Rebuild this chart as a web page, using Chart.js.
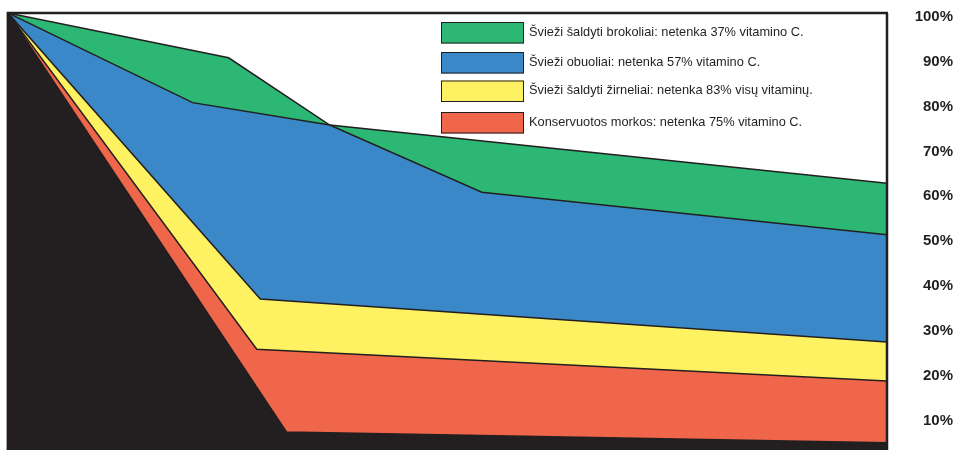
<!DOCTYPE html>
<html lang="lt">
<head>
<meta charset="utf-8">
<title>Vitaminų praradimas</title>
<script src="https://cdn.jsdelivr.net/npm/chart.js@4.4.1/dist/chart.umd.min.js"></script>
<style>
    html, body { margin: 0; padding: 0; background: #ffffff; }
    #wrap { position: relative; width: 953px; height: 450px; }
</style>
</head>
<body>
<div id="wrap"><canvas id="vitaminChart"></canvas></div>
<script>
// laiko ašis (0-100), kiekviena serija turi savo lūžio taškus
const broccoliX = [0, 25.1, 36.6, 100];
const broccoliY = [100, 90, 75, 62];

const applesX = [0, 21.0, 36.6, 53.9, 100];
const applesY = [100, 80, 75, 60, 50.5];

const peasX = [0, 28.7, 100];
const peasY = [100, 36.2, 26.6];

const carrotsX = [0, 28.3, 100];
const carrotsY = [100, 25, 17.9];

// tamsus pagrindas apačioje
const baseX = [0, 31.7, 100];
const baseY = [100, 6.5, 4.1];

const seriesLabels = [
    'Švieži šaldyti brokoliai: netenka 37% vitamino C.',
    'Švieži obuoliai: netenka 57% vitamino C.',
    'Švieži šaldyti žirneliai: netenka 83% visų vitaminų.',
    'Konservuotos morkos: netenka 75% vitamino C.'
];
const seriesColors = ['#2cb774', '#3a88c8', '#fff262', '#f0664a'];
const yTickValues = [10, 20, 30, 40, 50, 60, 70, 80, 90, 100];

const ink = '#231f20';

function toPoints(xs, ys) {
    return xs.map((x, i) => ({ x: x, y: ys[i] }));
}

function makeDataset(label, xs, ys, color, order) {
    return {
        label: label,
        data: toPoints(xs, ys),
        borderColor: ink,
        borderWidth: 1.5,
        backgroundColor: color,
        fill: 'start',
        tension: 0,
        pointRadius: 0,
        pointHoverRadius: 0,
        order: order
    };
}

// rėmelis aplink grafiką
const framePlugin = {
    id: 'frame',
    afterDatasetsDraw(chart) {
        const { ctx, chartArea: a } = chart;
        ctx.save();
        ctx.strokeStyle = ink;
        ctx.lineWidth = 2.5;
        ctx.beginPath();
        ctx.moveTo(a.left - 1, a.top);
        ctx.lineTo(a.right + 1, a.top);
        ctx.moveTo(a.right, a.top);
        ctx.lineTo(a.right, a.bottom);
        ctx.stroke();
        ctx.lineWidth = 1.8;
        ctx.beginPath();
        ctx.moveTo(a.left - 0.5, a.top - 1);
        ctx.lineTo(a.left - 0.5, a.bottom);
        ctx.stroke();
        ctx.restore();
    }
};

// legenda grafiko viduje
const legendPlugin = {
    id: 'innerLegend',
    afterDraw(chart) {
        const ctx = chart.ctx;
        const boxX = 441, boxW = 83, boxH = 21.5;
        const rowTops = [22, 52, 80.5, 112];
        ctx.save();
        ctx.font = '12.8px "Liberation Sans", Arial, sans-serif';
        ctx.textBaseline = 'middle';
        ctx.textAlign = 'left';
        seriesLabels.forEach((label, i) => {
            const y = rowTops[i];
            ctx.fillStyle = seriesColors[i];
            ctx.fillRect(boxX, y, boxW, boxH);
            ctx.strokeStyle = ink;
            ctx.lineWidth = 1;
            ctx.strokeRect(boxX + 0.5, y + 0.5, boxW - 1, boxH - 1);
            ctx.fillStyle = ink;
            ctx.fillText(label, boxX + 88, y + boxH / 2 - 0.5);
        });
        ctx.restore();
    }
};

function createVitaminChart() {
    const context = document.getElementById('vitaminChart').getContext('2d');

    const datasets = [
        makeDataset(seriesLabels[0], broccoliX, broccoliY, seriesColors[0], 5),
        makeDataset(seriesLabels[1], applesX, applesY, seriesColors[1], 4),
        makeDataset(seriesLabels[2], peasX, peasY, seriesColors[2], 3),
        makeDataset(seriesLabels[3], carrotsX, carrotsY, seriesColors[3], 2),
        makeDataset('', baseX, baseY, ink, 1)
    ];

    new Chart(context, {
        type: 'line',
        data: { datasets },
        options: {
            responsive: true,
            maintainAspectRatio: false,
            animation: false,
            layout: { padding: { left: 8, right: 0, top: 13, bottom: 0 } },
            plugins: {
                legend: { display: false },
                tooltip: { enabled: false }
            },
            scales: {
                x: {
                    type: 'linear',
                    min: 0,
                    max: 100,
                    display: false
                },
                y: {
                    position: 'right',
                    min: 2.5,
                    max: 100,
                    grid: { display: false, drawTicks: false },
                    border: { display: false },
                    afterBuildTicks: scale => {
                        scale.ticks = yTickValues.map(v => ({ value: v }));
                    },
                    afterFit: scale => {
                        // fiksuotas plotis, be papildomo tarpo viršuje/apačioje
                        scale.width = 66;
                        scale.paddingTop = 0;
                        scale.paddingBottom = 0;
                    },
                    ticks: {
                        crossAlign: 'far',
                        padding: 27,
                        labelOffset: 4,
                        color: ink,
                        font: { family: '"Liberation Sans", Arial, sans-serif', size: 15, weight: 'bold' },
                        callback: value => value + '%'
                    }
                }
            }
        },
        plugins: [framePlugin, legendPlugin]
    });
}

createVitaminChart();
</script>
</body>
</html>
